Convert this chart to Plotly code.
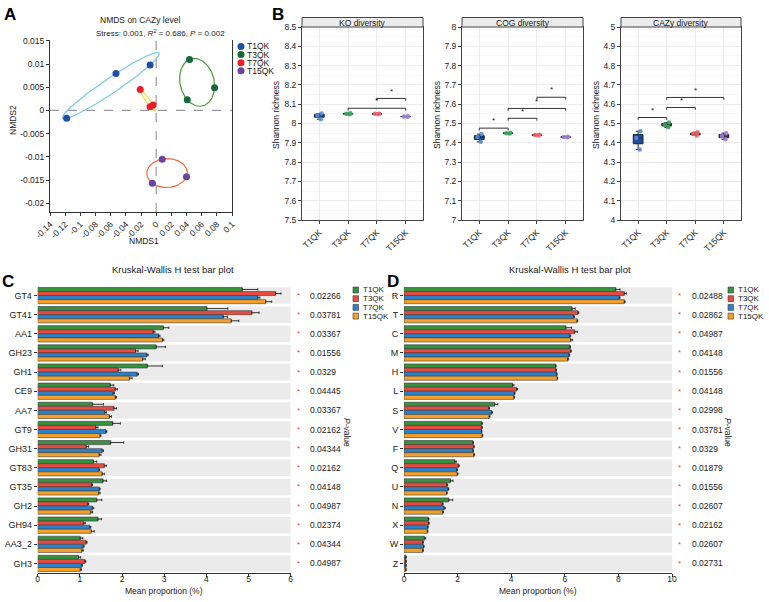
import numpy as np
import plotly.graph_objects as go

W, H = 769, 602
FONT = "Liberation Sans, Arial, sans-serif"
TXT = "#1a1a1a"

def fx(px):
    return px / W

def fy(py):
    return 1 - py / H

groups = ["T1QK", "T3QK", "T7QK", "T15QK"]

# ---------------- Panel A data (NMDS) ----------------
nmds1_T1QK = [-0.118, -0.053, -0.008]
nmds2_T1QK = [-0.0017, 0.0080, 0.0098]
nmds1_T3QK = [0.044, 0.077, 0.041]
nmds2_T3QK = [0.0110, 0.0049, 0.0023]
nmds1_T7QK = [-0.021, -0.008, -0.004]
nmds2_T7QK = [0.0045, 0.0008, 0.0012]
nmds1_T15QK = [0.008, 0.040, -0.005]
nmds2_T15QK = [-0.0105, -0.0143, -0.0157]
nmds_x = [nmds1_T1QK, nmds1_T3QK, nmds1_T7QK, nmds1_T15QK]
nmds_y = [nmds2_T1QK, nmds2_T3QK, nmds2_T7QK, nmds2_T15QK]
a_xticks = [-0.14, -0.12, -0.1, -0.08, -0.06, -0.04, -0.02, 0, 0.02, 0.04, 0.06, 0.08, 0.1]
a_yticks = [0.015, 0.01, 0.005, 0, -0.005, -0.01, -0.015, -0.02]

pt_colors = ["#1d4fa3", "#15683a", "#ee1c25", "#6a44a0"]
ell_colors = ["#74cde0", "#4e9a3c", "#f2e23a", "#f2663a"]

# ---------------- Panel B data (Shannon) ----------------
ko_vals = {"T1QK": [8.022, 8.043, 8.052], "T3QK": [8.048, 8.050, 8.053],
           "T7QK": [8.049, 8.050, 8.051], "T15QK": [8.035, 8.036, 8.037]}
cog_vals = {"T1QK": [7.405, 7.430, 7.445], "T3QK": [7.448, 7.450, 7.452],
            "T7QK": [7.438, 7.440, 7.442], "T15QK": [7.429, 7.430, 7.431]}
cazy_vals = {"T1QK": [4.365, 4.425, 4.460], "T3QK": [4.480, 4.495, 4.505],
             "T7QK": [4.438, 4.445, 4.455], "T15QK": [4.418, 4.435, 4.450]}
ko_ticks = [7.5, 7.6, 7.7, 7.8, 7.9, 8.0, 8.1, 8.2, 8.3, 8.4, 8.5]
cog_ticks = [7.0, 7.1, 7.2, 7.3, 7.4, 7.5, 7.6, 7.7, 7.8, 7.9, 8.0]
cazy_ticks = [4.0, 4.1, 4.2, 4.3, 4.4, 4.5, 4.6, 4.7, 4.8, 4.9, 5.0]
ko_sig = [("T3QK", "T15QK", 8.079), ("T7QK", "T15QK", 8.130)]
cog_sig = [("T1QK", "T3QK", 7.476), ("T3QK", "T7QK", 7.527),
           ("T3QK", "T15QK", 7.578), ("T7QK", "T15QK", 7.636)]
cazy_sig = [("T1QK", "T3QK", 4.531), ("T3QK", "T7QK", 4.583), ("T3QK", "T15QK", 4.635)]
box_fill = ["#1f4e9c", "#1b6b35", "#e41a1c", "#6a3d9a"]
box_pts = ["#5b8fd6", "#3aa560", "#f0606a", "#9b7fd0"]

# ---------------- Panel C data ----------------
c_cats = ["GT4", "GT41", "AA1", "GH23", "GH1", "CE9", "AA7", "GT9", "GH31", "GT83",
          "GT35", "GH2", "GH94", "AA3_2", "GH3"]
c_pvals = ["0.02266", "0.03781", "0.03367", "0.01556", "0.0329", "0.04445", "0.03367",
           "0.02162", "0.04344", "0.02162", "0.04148", "0.04987", "0.02374", "0.04344", "0.04987"]
c_T1QK = [4.85, 4.01, 2.98, 2.81, 2.60, 1.72, 1.30, 1.78, 1.73, 1.32, 1.55, 1.40, 1.43, 1.01, 0.97]
c_T1QK_err = [0.37, 0.50, 0.13, 0.22, 0.36, 0.08, 0.26, 0.18, 0.31, 0.08, 0.08, 0.12, 0.08, 0.06, 0.05]
c_T3QK = [5.64, 5.08, 2.74, 2.32, 1.91, 1.84, 1.81, 1.38, 1.15, 1.58, 1.28, 1.19, 1.09, 1.15, 1.12]
c_T3QK_err = [0.13, 0.17, 0.04, 0.06, 0.06, 0.05, 0.06, 0.05, 0.06, 0.05, 0.02, 0.02, 0.04, 0.02, 0.02]
c_T7QK = [5.22, 4.40, 2.87, 2.59, 2.36, 1.79, 1.59, 1.62, 1.53, 1.45, 1.46, 1.30, 1.24, 1.08, 1.04]
c_T7QK_err = [0.05, 0.10, 0.03, 0.03, 0.03, 0.03, 0.04, 0.02, 0.03, 0.02, 0.02, 0.03, 0.02, 0.02, 0.02]
c_T15QK = [5.41, 4.59, 2.96, 2.49, 2.18, 1.84, 1.70, 1.48, 1.46, 1.53, 1.45, 1.26, 1.27, 1.05, 1.01]
c_T15QK_err = [0.14, 0.18, 0.03, 0.06, 0.06, 0.03, 0.05, 0.02, 0.04, 0.05, 0.03, 0.04, 0.07, 0.03, 0.03]

# ---------------- Panel D data ----------------
d_cats = ["R", "T", "C", "M", "H", "L", "S", "V", "F", "Q", "U", "N", "X", "W", "Z"]
d_pvals = ["0.02488", "0.02862", "0.04987", "0.04148", "0.01556", "0.04148", "0.02998",
           "0.03781", "0.0329", "0.01879", "0.01556", "0.02607", "0.02162", "0.02607", "0.02731"]
d_T1QK = [7.90, 6.27, 6.04, 6.19, 5.66, 4.05, 3.38, 2.90, 2.57, 1.90, 1.73, 1.67, 0.91, 0.76, 0.07]
d_T1QK_err = [0.16, 0.12, 0.21, 0.02, 0.01, 0.05, 0.12, 0.02, 0.02, 0.05, 0.10, 0.15, 0.02, 0.05, 0.01]
d_T3QK = [8.22, 6.49, 6.37, 6.22, 5.67, 4.20, 3.16, 2.90, 2.60, 2.03, 1.60, 1.43, 0.92, 0.70, 0.07]
d_T3QK_err = [0.08, 0.03, 0.10, 0.02, 0.01, 0.04, 0.03, 0.02, 0.02, 0.03, 0.03, 0.03, 0.02, 0.02, 0.01]
d_T7QK = [8.03, 6.33, 6.19, 6.16, 5.70, 4.12, 3.27, 2.89, 2.57, 1.97, 1.65, 1.50, 0.88, 0.73, 0.07]
d_T7QK_err = [0.03, 0.03, 0.03, 0.02, 0.01, 0.02, 0.03, 0.02, 0.02, 0.02, 0.02, 0.04, 0.02, 0.02, 0.01]
d_T15QK = [8.22, 6.46, 6.22, 6.11, 5.72, 4.10, 3.18, 2.92, 2.61, 1.99, 1.59, 1.44, 0.87, 0.70, 0.07]
d_T15QK_err = [0.03, 0.02, 0.07, 0.02, 0.01, 0.02, 0.03, 0.02, 0.02, 0.02, 0.02, 0.03, 0.02, 0.02, 0.01]

bar_colors = ["#37913f", "#e84a3f", "#2b82c9", "#f5a028"]

fig = go.Figure()
shapes = []
ann = []

def note(text, x, y, xref="paper", yref="paper", xanchor="center", yanchor="middle", size=8.5,
         color=TXT, angle=0):
    ann.append(dict(text=text, x=x, y=y, xref=xref, yref=yref, xanchor=xanchor, yanchor=yanchor,
                    showarrow=False, textangle=angle, font=dict(size=size, color=color)))

def fmt(v):
    return "%g" % v

# ================= Panel A =================
for g, xs, ys, pc, ec in zip(groups, nmds_x, nmds_y, pt_colors, ell_colors):
    P = np.column_stack([xs, ys])
    m = P.mean(axis=0)
    S = (P - m).T @ (P - m) / len(P)
    S = S + np.eye(2) * 1e-14
    L = np.linalg.cholesky(S)
    t = np.linspace(0, 2 * np.pi, 200)
    E = m[:, None] + np.sqrt(2) * L @ np.vstack([np.cos(t), np.sin(t)])
    fig.add_trace(go.Scatter(x=E[0], y=E[1], mode="lines", line=dict(color=ec, width=1.2),
                             xaxis="x", yaxis="y", showlegend=False, hoverinfo="skip"))
for g, xs, ys, pc in zip(groups, nmds_x, nmds_y, pt_colors):
    fig.add_trace(go.Scatter(x=xs, y=ys, mode="markers", marker=dict(color=pc, size=7),
                             xaxis="x", yaxis="y", showlegend=False, name=g))

shapes.append(dict(type="line", xref="x", yref="y domain", x0=0, x1=0, y0=0, y1=1,
                   line=dict(color="#9a9a9a", width=1.2, dash="dash"), layer="below"))
shapes.append(dict(type="line", xref="x domain", yref="y", x0=0, x1=1, y0=0, y1=0,
                   line=dict(color="#9a9a9a", width=1.2, dash="dash"), layer="below"))

axA = dict(tickfont=dict(size=8.5, color=TXT), ticks="outside", ticklen=3, tickcolor="#333",
           showline=True, linecolor="#333", linewidth=1, showgrid=False, zeroline=False,
           automargin=False)
layout_axes = {}
layout_axes["xaxis"] = dict(axA, domain=[fx(50), fx(232)], range=[-0.14, 0.1], anchor="y",
                            tickvals=a_xticks, ticktext=[fmt(v) for v in a_xticks], tickangle=-45)
layout_axes["yaxis"] = dict(axA, domain=[fy(212), fy(40)], range=[-0.0219, 0.0152], anchor="x",
                            tickvals=a_yticks, ticktext=[fmt(v) for v in a_yticks], mirror=True)

note("NMDS on CAZy level", fx(140), fy(20), size=8.5)
note("Stress: 0.001, <i>R</i><sup>2</sup> = 0.686, <i>P</i> = 0.002", fx(227), fy(33),
     xanchor="right", size=8)
note("NMDS1", fx(144), fy(241), size=8.5)
note("NMDS2", fx(13), fy(120), angle=-90, size=8.5)
for i, (g, pc) in enumerate(zip(groups, pt_colors)):
    yy = 46.5 + i * 8.1
    shapes.append(dict(type="circle", xref="paper", yref="paper", xsizemode="pixel", ysizemode="pixel",
                       xanchor=fx(241), yanchor=fy(yy), x0=-3.5, x1=3.5, y0=-3.5, y1=3.5,
                       fillcolor=pc, line=dict(width=0)))
    note(g, fx(245), fy(yy), xanchor="left", size=8.5)

# ================= Panel B =================
b_panels = [("KO diversity", ko_vals, ko_sig, ko_ticks, 302, 423, 276),
            ("COG diversity", cog_vals, cog_sig, cog_ticks, 462, 583, 437),
            ("CAZy diversity", cazy_vals, cazy_sig, cazy_ticks, 621, 741, 596)]
for k, (title, vals, sig, ticks, x0p, x1p, ytitle_x) in enumerate(b_panels):
    n = k + 2
    xa, ya = "x%d" % n, "y%d" % n
    for g, bf, bp in zip(groups, box_fill, box_pts):
        fig.add_trace(go.Box(x=[g] * len(vals[g]), y=vals[g], xaxis=xa, yaxis=ya, name=g,
                             fillcolor=bf, line=dict(color="#222", width=1), width=0.34,
                             boxpoints="all", jitter=0.6, pointpos=0, quartilemethod="inclusive",
                             marker=dict(color=bp, size=4.5, opacity=0.9), showlegend=False))
    tip = 0.012
    for (g1, g2, h) in sig:
        fig.add_trace(go.Scatter(x=[g1, g1, g2, g2], y=[h - tip, h, h, h - tip], mode="lines",
                                 line=dict(color="#333", width=1), xaxis=xa, yaxis=ya,
                                 showlegend=False, hoverinfo="skip"))
        mid = (groups.index(g1) + groups.index(g2)) / 2
        note("*", mid, h + 0.004, xref=xa, yref=ya, yanchor="bottom", size=8)
    layout_axes["xaxis%d" % n] = dict(domain=[fx(x0p), fx(x1p)], anchor=ya, categoryorder="array",
                                      categoryarray=groups, range=[-0.6, 3.6], tickangle=-45,
                                      tickfont=dict(size=8.5, color=TXT), automargin=False,
                                      showline=True, mirror=True, linecolor="#444", linewidth=1,
                                      ticks="outside", ticklen=3, tickcolor="#444",
                                      showgrid=True, gridcolor="#ececec", gridwidth=0.8, zeroline=False)
    layout_axes["yaxis%d" % n] = dict(domain=[fy(220), fy(27)], anchor=xa, range=[ticks[0], ticks[-1]],
                                      tickvals=ticks, ticktext=[fmt(v) for v in ticks],
                                      tickfont=dict(size=8.5, color=TXT), automargin=False,
                                      showline=True, mirror=True, linecolor="#444", linewidth=1,
                                      ticks="outside", ticklen=3, tickcolor="#444",
                                      showgrid=True, gridcolor="#ececec", gridwidth=0.8, zeroline=False,
                                      minor=dict(dtick=0.05, showgrid=True, gridcolor="#f6f6f6", gridwidth=0.6))
    shapes.append(dict(type="rect", xref="paper", yref="paper", x0=fx(x0p), x1=fx(x1p),
                       y0=fy(27), y1=fy(17.5), fillcolor="#ececec", line=dict(color="#444", width=1)))
    note(title, (fx(x0p) + fx(x1p)) / 2, fy(22.5), size=8.5)
    note("Shannon richness", fx(ytitle_x), fy(115), angle=-90, size=8.5)

# ================= Panels C and D =================
cd_panels = [(c_cats, c_pvals, [c_T1QK, c_T3QK, c_T7QK, c_T15QK],
              [c_T1QK_err, c_T3QK_err, c_T7QK_err, c_T15QK_err], 6, 1, 37.7, 290.7, 298, 308, 347, 353, 173),
             (d_cats, d_pvals, [d_T1QK, d_T3QK, d_T7QK, d_T15QK],
              [d_T1QK_err, d_T3QK_err, d_T7QK_err, d_T15QK_err], 10, 2, 404, 672, 679, 690, 728, 728, 570)]
for k, (cats, pv, series, errs, xmax, dt, x0p, x1p, starx, pvx, ptitx, legx, titx) in enumerate(cd_panels):
    n = k + 5
    xa, ya = "x%d" % n, "y%d" % n
    for g, vals, er, col in zip(groups, series, errs, bar_colors):
        fig.add_trace(go.Bar(y=cats, x=vals, orientation="h", xaxis=xa, yaxis=ya, name=g,
                             marker=dict(color=col, line=dict(color="#3a3a3a", width=0.6)),
                             error_x=dict(type="data", array=er, arrayminus=[0] * len(er), symmetric=False,
                                          color="#222", thickness=0.9, width=1.2),
                             showlegend=False))
    for i in range(len(cats)):
        shapes.append(dict(type="rect", xref=xa, yref=ya, x0=0, x1=xmax, y0=i - 0.43, y1=i + 0.43,
                           fillcolor="#ebebeb", line=dict(width=0), layer="below"))
        note("*", fx(starx), i, yref=ya, size=8, color="#e8413c")
        note(pv[i], fx(pvx), i, yref=ya, xanchor="left", size=8.5)
    layout_axes["xaxis%d" % n] = dict(domain=[fx(x0p), fx(x1p)], anchor=ya, range=[0, xmax], dtick=dt,
                                      showline=True, linecolor="#333", linewidth=1.2, ticks="outside",
                                      ticklen=3, tickcolor="#333", showgrid=False, zeroline=False,
                                      tickfont=dict(size=8.5, color=TXT), automargin=False,
                                      ticklabelstandoff=-5)
    layout_axes["yaxis%d" % n] = dict(domain=[fy(573), fy(286)], anchor=xa, type="category",
                                      categoryorder="array", categoryarray=cats, range=[14.5, -0.5],
                                      showline=False, ticks="outside", ticklen=3, tickcolor="#333",
                                      showgrid=False, zeroline=False, tickfont=dict(size=9, color=TXT),
                                      automargin=False)
    note("Kruskal-Wallis H test bar plot", fx(titx), fy(270), size=9.5)
    note("Mean proportion (%)", (fx(x0p) + fx(x1p)) / 2, fy(591), size=8.5)
    note("<i>P</i>-value", fx(ptitx), fy(432), angle=90, size=8.5)
    for i, (g, col) in enumerate(zip(groups, bar_colors)):
        yy = 290 + i * 8.7
        shapes.append(dict(type="rect", xref="paper", yref="paper", x0=fx(legx), x1=fx(legx + 5.5),
                           y0=fy(yy + 3), y1=fy(yy - 3), fillcolor=col, line=dict(color="#3a3a3a", width=0.6)))
        note(g, fx(legx + 7.5), fy(yy), xanchor="left", size=8)

for lab, px, py in [("A", 10, 14), ("B", 278, 14), ("C", 8, 281), ("D", 393, 281)]:
    note("<b>%s</b>" % lab, fx(px), fy(py), size=17, color="#000")

fig.update_layout(template="none", width=W, height=H, margin=dict(l=0, r=0, t=0, b=0, pad=0),
                  paper_bgcolor="white", plot_bgcolor="white", font=dict(family=FONT, color=TXT),
                  barmode="group", bargap=0.15, bargroupgap=0, boxmode="overlay", shapes=shapes,
                  annotations=ann, showlegend=False, **layout_axes)

fig.write_html("out.html", config={"displayModeBar": False},
               post_script="document.body.style.margin='0';")
